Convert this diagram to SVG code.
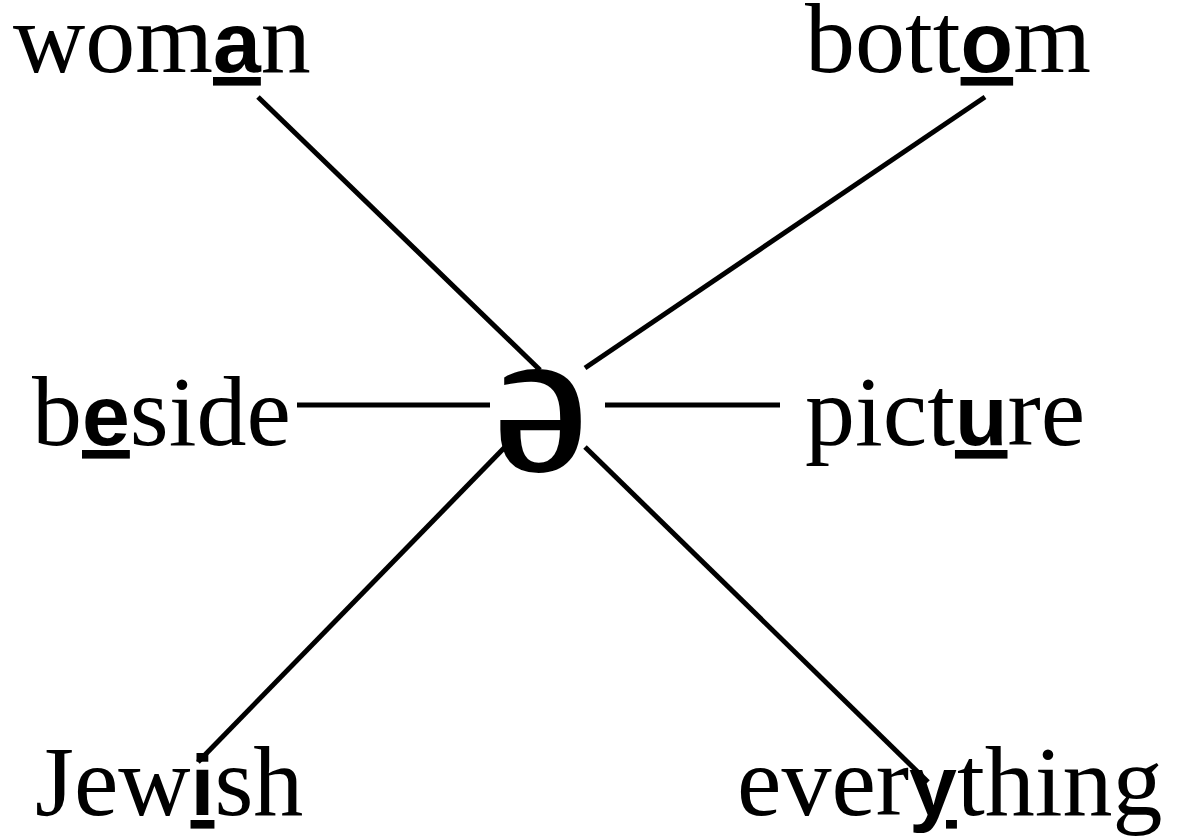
<svg xmlns="http://www.w3.org/2000/svg" width="1177" height="837" viewBox="0 0 1177 837">
<style>
.w{font-family:"Liberation Serif",serif;font-size:100px;fill:#000}
.b{font-family:"Liberation Sans",sans-serif;font-weight:bold;font-size:86px;text-decoration:underline}
.c{stroke:#000;stroke-width:5;fill:none}
</style>
<rect width="1177" height="837" fill="#fff"/>
<g id="connectors">
<line class="c" x1="258" y1="97" x2="540" y2="370"/>
<line class="c" x1="985" y1="97" x2="585" y2="368"/>
<line class="c" x1="297" y1="405" x2="490" y2="405"/>
<line class="c" x1="605" y1="405" x2="780" y2="405"/>
<line class="c" x1="505" y1="447" x2="198" y2="762"/>
<line class="c" x1="585" y1="447" x2="928" y2="782"/>
</g>
<g id="center"><text class="w" x="494" y="470" style="font-size:212px;stroke:#000;stroke-width:2">ə</text></g>
<g id="woman"><text class="w" x="13" y="72">wom<tspan class="b">a</tspan>n</text></g>
<g id="bottom"><text class="w" x="805" y="72">bott<tspan class="b">o</tspan>m</text></g>
<g id="beside"><text class="w" x="32" y="445">b<tspan class="b">e</tspan>side</text></g>
<g id="picture"><text class="w" x="805" y="445">pict<tspan class="b">u</tspan>re</text></g>
<g id="jewish"><text class="w" x="35" y="815">Jew<tspan class="b">i</tspan>sh</text></g>
<g id="everything"><text class="w" x="737" y="815">ever<tspan class="b">y</tspan>thing</text></g>
</svg>
